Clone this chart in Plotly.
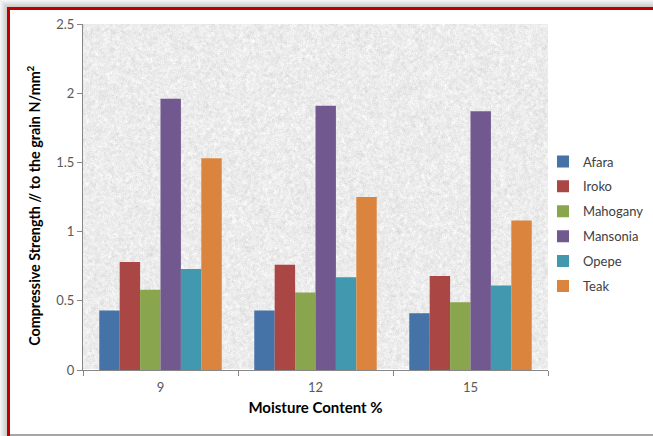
import base64
import struct
import zlib

import numpy as np
import plotly.graph_objects as go

# Moisture content groups and compressive strength per species (N/mm^2)
moisture = ["9", "12", "15"]
species = ["Afara", "Iroko", "Mahogany", "Mansonia", "Opepe", "Teak"]
afara = [0.43, 0.43, 0.41]
iroko = [0.78, 0.76, 0.68]
mahogany = [0.58, 0.56, 0.49]
mansonia = [1.96, 1.91, 1.87]
opepe = [0.73, 0.67, 0.61]
teak = [1.53, 1.25, 1.08]
series = [afara, iroko, mahogany, mansonia, opepe, teak]
colors = ["#4572A7", "#AA4643", "#89A54E", "#71588F", "#4198AF", "#DB843D"]
y_ticks = [0, 0.5, 1, 1.5, 2, 2.5]
y_ticktext = ["0", "0.5", "1", "1.5", "2", "2.5"]

W, H = 653, 436
L, R, T, B = 83, 105, 24, 66
PW, PH = W - L - R, H - T - B


def granite_png(w, h):
    """Light speckled stone texture for the plot background, as a PNG data URI."""
    rng = np.random.default_rng(7)
    n = rng.normal(0, 1, (h + 2, w + 2))
    sm = (n[:-2, :-2] + n[1:-1, :-2] + n[2:, :-2] + n[:-2, 1:-1] + n[1:-1, 1:-1]
          + n[2:, 1:-1] + n[:-2, 2:] + n[1:-1, 2:] + n[2:, 2:]) / 9.0
    fine = rng.normal(0, 1, (h, w))
    img = 236 + sm * 13 + fine * 4
    img = np.clip(img, 192, 252).astype(np.uint8)
    raw = b"".join(b"\x00" + img[r].tobytes() for r in range(h))

    def chunk(tag, data):
        c = struct.pack(">I", len(data)) + tag + data
        return c + struct.pack(">I", zlib.crc32(tag + data) & 0xFFFFFFFF)

    png = b"\x89PNG\r\n\x1a\n"
    png += chunk(b"IHDR", struct.pack(">IIBBBBB", w, h, 8, 0, 0, 0, 0))
    png += chunk(b"IDAT", zlib.compress(raw, 9))
    png += chunk(b"IEND", b"")
    return "data:image/png;base64," + base64.b64encode(png).decode()


def px_x(p):
    return (p - L) / PW


def px_y(p):
    return (H - B - p) / PH


fig = go.Figure()
for name, vals, col in zip(species, series, colors):
    fig.add_trace(go.Bar(
        x=moisture, y=vals, name=name, marker=dict(color=col, line=dict(width=0)),
        legendgroup=name,
    ))

shapes = []
# soft grey shadow along the top and left edges of the frame
for i, op in enumerate([0.08, 0.13, 0.18, 0.23, 0.28, 0.33, 0.38]):
    shapes.append(dict(type="rect", xref="paper", yref="paper",
                       x0=px_x(i), x1=px_x(i + 1), y0=px_y(H), y1=px_y(i),
                       fillcolor=f"rgba(120,120,120,{op})", line=dict(width=0), layer="above"))
    shapes.append(dict(type="rect", xref="paper", yref="paper",
                       x0=px_x(i + 1), x1=px_x(W), y0=px_y(i + 1), y1=px_y(i),
                       fillcolor=f"rgba(120,120,120,{op})", line=dict(width=0), layer="above"))
# red frame lines
shapes.append(dict(type="rect", xref="paper", yref="paper",
                   x0=px_x(7), x1=px_x(10), y0=px_y(H), y1=px_y(7),
                   fillcolor="#C00000", line=dict(width=0), layer="above"))
shapes.append(dict(type="rect", xref="paper", yref="paper",
                   x0=px_x(7), x1=px_x(W), y0=px_y(10), y1=px_y(7),
                   fillcolor="#C00000", line=dict(width=0), layer="above"))
# grey bottom edge
shapes.append(dict(type="rect", xref="paper", yref="paper",
                   x0=px_x(10), x1=px_x(W), y0=px_y(H), y1=px_y(H - 2),
                   fillcolor="#A6A6A6", line=dict(width=0), layer="above"))

fig.update_layout(
    width=W, height=H,
    margin=dict(l=L, r=R, t=T, b=B, autoexpand=False),
    paper_bgcolor="white",
    plot_bgcolor="rgba(0,0,0,0)",
    font=dict(family="Lato, 'Open Sans', sans-serif", color="#404040", size=13),
    barmode="group",
    bargap=0.21,
    bargroupgap=0,
    showlegend=True,
    legend=dict(x=px_x(543), y=px_y(224), xanchor="left", yanchor="middle",
                font=dict(size=13, color="#404040"), tracegroupgap=5,
                traceorder="grouped", itemwidth=30, bgcolor="rgba(0,0,0,0)"),
    images=[dict(source=granite_png(PW, PH), xref="paper", yref="paper",
                 x=0, y=1, sizex=1, sizey=1, sizing="stretch", layer="below")],
    shapes=shapes,
    xaxis=dict(
        type="category", showgrid=False, showline=True, linecolor="#868686", linewidth=1,
        ticks="outside", tickson="boundaries", ticklen=5, tickcolor="#868686",
        tickfont=dict(size=13, color="#595959"), ticklabelstandoff=5,
        title=dict(text="<b>Moisture Content %</b>", font=dict(size=15, color="#000000"), standoff=8),
    ),
    yaxis=dict(
        range=[0, 2.5], tickvals=y_ticks, ticktext=y_ticktext, showgrid=False,
        showline=True, linecolor="#868686", linewidth=1, ticks="outside", ticklen=5,
        tickcolor="#868686", tickfont=dict(size=13, color="#595959"),
        title=dict(text="<b>Compressive Strength // to the grain N/mm<sup>2</sup>"
                        "&nbsp;&nbsp;&nbsp;&nbsp;&nbsp;</b>",
                   font=dict(size=14.3, color="#000000"), standoff=12),
    ),
)

fig.write_html("out.html")
